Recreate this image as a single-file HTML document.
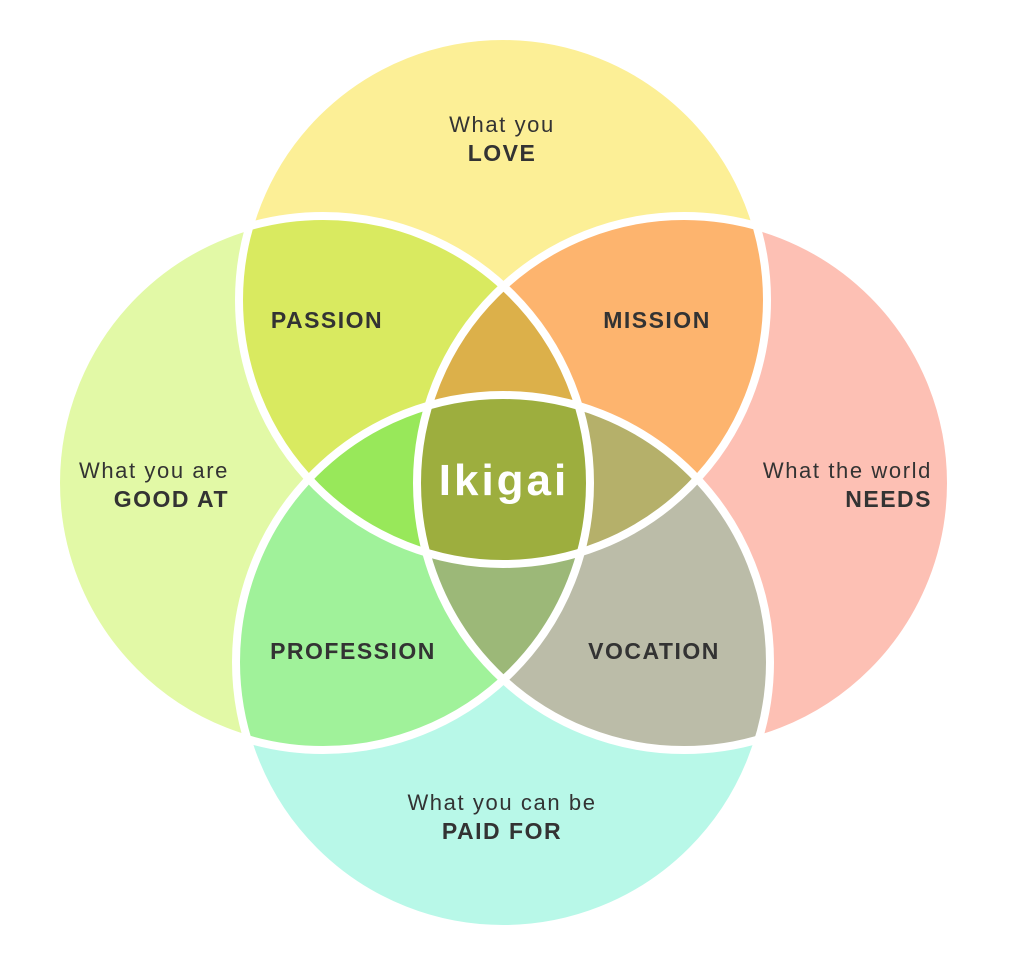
<!DOCTYPE html>
<html><head><meta charset="utf-8"><style>
html,body{margin:0;padding:0;background:#fff;width:1032px;height:962px;overflow:hidden}
svg text{font-family:"Liberation Sans",sans-serif;fill:#333}
.r{font-size:22px;letter-spacing:1.6px}
.b{font-size:23px;font-weight:bold;letter-spacing:1.5px}
</style></head><body>
<svg width="1032" height="962" viewBox="0 0 1032 962">
<defs>
<clipPath id="T"><circle cx="503" cy="300" r="264"/></clipPath>
<clipPath id="L"><circle cx="323" cy="483" r="267"/></clipPath>
<clipPath id="R"><circle cx="684" cy="483" r="267"/></clipPath>
<clipPath id="B"><circle cx="503" cy="662" r="267"/></clipPath>
</defs>
<circle cx="503" cy="300" r="264" fill="#fcef96"/>
<circle cx="323" cy="483" r="267" fill="#e2f9a6"/>
<circle cx="684" cy="483" r="267" fill="#fdc0b4"/>
<circle cx="503" cy="662" r="267" fill="#b8f8e8"/>
<g clip-path="url(#L)"><circle cx="503" cy="300" r="264" fill="#d9ea60"/></g>
<g clip-path="url(#R)"><circle cx="503" cy="300" r="264" fill="#fdb46e"/></g>
<g clip-path="url(#L)"><circle cx="503" cy="662" r="267" fill="#a0f29a"/></g>
<g clip-path="url(#R)"><circle cx="503" cy="662" r="267" fill="#bbbca8"/></g>
<g clip-path="url(#L)"><g clip-path="url(#R)"><circle cx="503" cy="300" r="264" fill="#dcb04a"/></g></g>
<g clip-path="url(#L)"><g clip-path="url(#B)"><circle cx="503" cy="300" r="264" fill="#98e85a"/></g></g>
<g clip-path="url(#R)"><g clip-path="url(#B)"><circle cx="503" cy="300" r="264" fill="#b5b06a"/></g></g>
<g clip-path="url(#L)"><g clip-path="url(#R)"><circle cx="503" cy="662" r="267" fill="#9cb878"/></g></g>
<g clip-path="url(#L)"><g clip-path="url(#R)"><g clip-path="url(#B)"><circle cx="503" cy="300" r="264" fill="#9dae3e"/></g></g></g>
<g fill="none" stroke="#fff" stroke-width="8">
<circle cx="503" cy="300" r="264"/>
<circle cx="323" cy="483" r="267"/>
<circle cx="684" cy="483" r="267"/>
<circle cx="503" cy="662" r="267"/>
</g>
<text class="r" x="502" y="132" text-anchor="middle">What you</text>
<text class="b" x="502" y="161" text-anchor="middle">LOVE</text>
<text class="r" x="229" y="478" text-anchor="end">What you are</text>
<text class="b" x="229" y="507" text-anchor="end">GOOD AT</text>
<text class="r" x="932" y="478" text-anchor="end">What the world</text>
<text class="b" x="932" y="507" text-anchor="end">NEEDS</text>
<text class="r" x="502" y="810" text-anchor="middle">What you can be</text>
<text class="b" x="502" y="839" text-anchor="middle">PAID FOR</text>
<text class="b" x="327" y="328" text-anchor="middle">PASSION</text>
<text class="b" x="657" y="328" text-anchor="middle">MISSION</text>
<text class="b" x="353" y="659" text-anchor="middle">PROFESSION</text>
<text class="b" x="654" y="659" text-anchor="middle">VOCATION</text>
<text x="504" y="495" text-anchor="middle" style="font-size:44px;font-weight:bold;fill:#fff;letter-spacing:3px">Ikigai</text>
</svg>
</body></html>
